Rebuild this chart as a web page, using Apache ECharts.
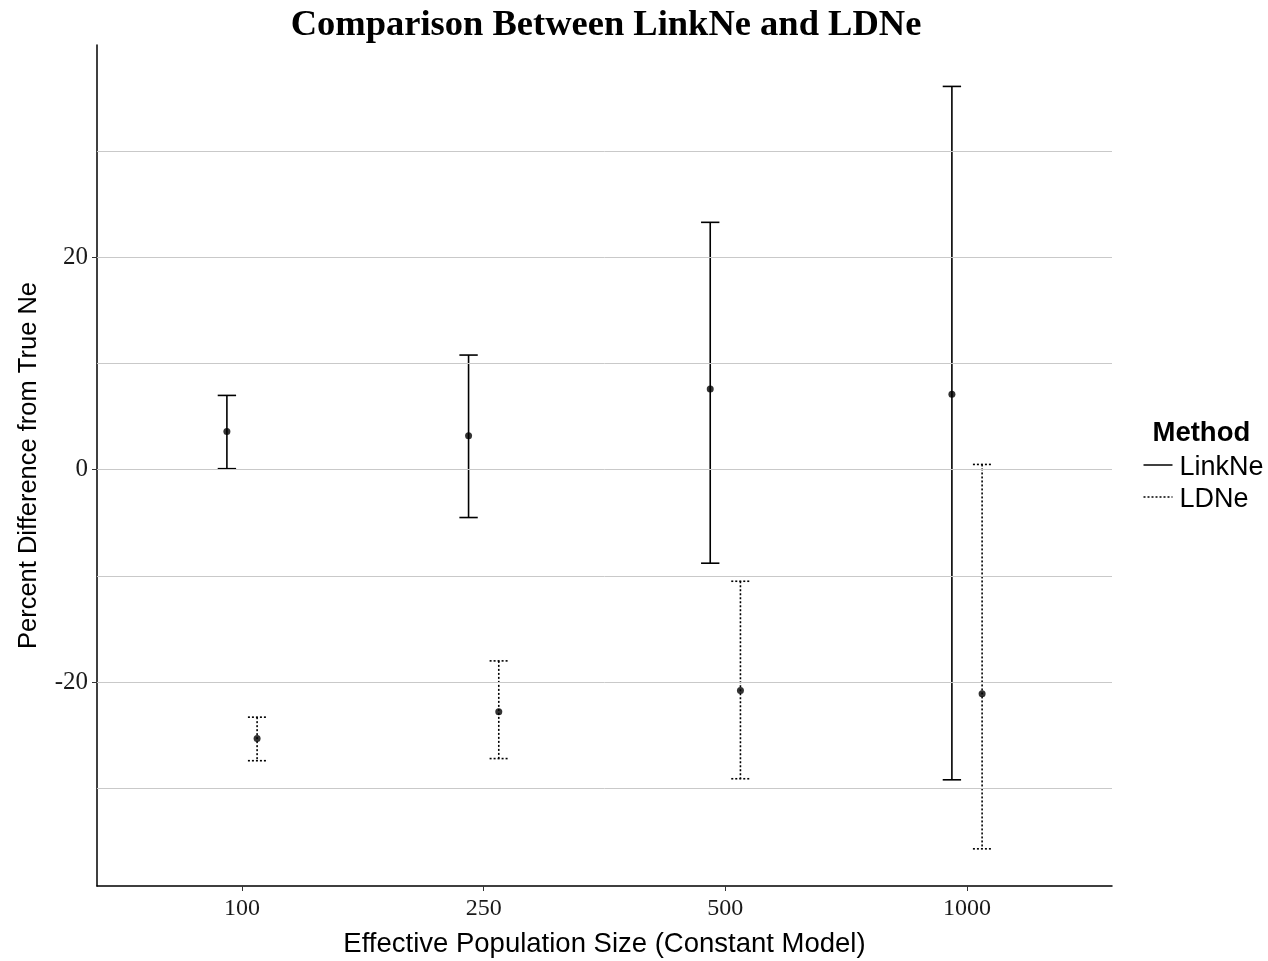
<!DOCTYPE html>
<html>
<head>
<meta charset="utf-8">
<title>Comparison Between LinkNe and LDNe</title>
<script src="https://cdn.jsdelivr.net/npm/echarts@6/dist/echarts.min.js"></script>
<style>
  html, body { margin: 0; padding: 0; background: #ffffff; }
  #chart { width: 1268px; height: 961px; }
</style>
</head>
<body>
<div id="chart"></div>
<script>
// Effective population sizes (discrete x positions 1..4)
const categories = ['100', '250', '500', '1000'];

// LinkNe: mean percent difference and interval bounds
const linkMean  = [3.6, 3.2, 7.6, 7.1];
const linkLower = [0.1, -4.5, -8.8, -29.2];
const linkUpper = [7.0, 10.8, 23.3, 36.1];

// LDNe: mean percent difference and interval bounds
const ldMean  = [-25.3, -22.8, -20.8, -21.1];
const ldLower = [-27.4, -27.2, -29.1, -35.7];
const ldUpper = [-23.3, -18.0, -10.5, 0.5];

// Axis ticks and horizontal guide lines
const yTickValues = [-20, 0, 20];
const gridValues = [-30, -20, -10, 0, 10, 20, 30];
const xTickValues = [1, 2, 3, 4];

const dodge = 0.0625;
const capHalf = 0.038;
const serif = 'Liberation Serif';
const sans = 'Liberation Sans';

function barData(lower, upper, shift) {
  return categories.map((c, i) => [i + 1 + shift, lower[i], upper[i]]);
}
function pointData(mean, shift) {
  return categories.map((c, i) => [i + 1 + shift, mean[i]]);
}

function makeErrorRenderer(dash) {
  return function (params, api) {
    const x = api.value(0);
    const lo = api.value(1);
    const hi = api.value(2);
    const top = api.coord([x, hi]);
    const bot = api.coord([x, lo]);
    const left = api.coord([x - capHalf, hi])[0];
    const right = api.coord([x + capHalf, hi])[0];
    const style = { stroke: '#000000', lineWidth: 1.6, lineDash: dash, fill: null };
    return {
      type: 'group',
      children: [
        { type: 'line', shape: { x1: top[0], y1: top[1], x2: bot[0], y2: bot[1] }, style: style },
        { type: 'line', shape: { x1: left, y1: top[1], x2: right, y2: top[1] }, style: style },
        { type: 'line', shape: { x1: left, y1: bot[1], x2: right, y2: bot[1] }, style: style }
      ]
    };
  };
}

const chart = echarts.init(document.getElementById('chart'), null, { renderer: 'canvas' });

const option = {
  backgroundColor: '#ffffff',
  animation: false,
  title: {
    text: 'Comparison Between LinkNe and LDNe',
    left: 601,
    top: 2,
    textAlign: 'center',
    textStyle: { fontFamily: serif, fontWeight: 'bold', fontSize: 36.5, color: '#000000' }
  },
  grid: { left: 97, right: 156, top: 45, bottom: 75, containLabel: false, outerBoundsMode: 'none' },
  xAxis: {
    type: 'value',
    min: 0.4,
    max: 4.6,
    name: 'Effective Population Size (Constant Model)',
    nameLocation: 'middle',
    nameGap: 44,
    nameTextStyle: { fontFamily: sans, fontSize: 27.5, color: '#000000' },
    axisLine: { show: true, onZero: false, lineStyle: { color: '#000000', width: 1.5 } },
    axisTick: { show: true, length: 5, customValues: xTickValues, lineStyle: { color: '#333333', width: 1 } },
    axisLabel: {
      customValues: xTickValues,
      margin: 11,
      fontFamily: serif,
      fontSize: 24,
      color: '#1a1a1a',
      formatter: function (v) { return categories[Math.round(v) - 1]; }
    },
    splitLine: { show: false }
  },
  yAxis: {
    type: 'value',
    min: -39.2,
    max: 40.0,
    name: 'Percent Difference from True Ne',
    nameLocation: 'middle',
    nameGap: 55,
    nameTextStyle: { fontFamily: sans, fontSize: 25.5, color: '#000000' },
    axisLine: { show: true, onZero: false, lineStyle: { color: '#000000', width: 1.5 } },
    axisTick: { show: true, length: 5, customValues: yTickValues, lineStyle: { color: '#333333', width: 1 } },
    axisLabel: {
      customValues: yTickValues,
      margin: 9,
      fontFamily: serif,
      fontSize: 25,
      color: '#1a1a1a'
    },
    splitLine: { show: false }
  },
  series: [
    {
      name: 'guides',
      type: 'scatter',
      data: [],
      silent: true,
      z: 1,
      markLine: {
        silent: true,
        symbol: ['none', 'none'],
        animation: false,
        label: { show: false },
        lineStyle: { color: '#c9c9c9', width: 1, type: 'solid' },
        emphasis: { disabled: true },
        data: gridValues.map(v => ({ yAxis: v }))
      }
    },
    {
      name: 'LinkNe',
      type: 'custom',
      z: 3,
      renderItem: makeErrorRenderer(null),
      encode: { x: 0, y: [1, 2] },
      data: barData(linkLower, linkUpper, -dodge)
    },
    {
      name: 'LDNe',
      type: 'custom',
      z: 3,
      renderItem: makeErrorRenderer([2, 2]),
      encode: { x: 0, y: [1, 2] },
      data: barData(ldLower, ldUpper, dodge)
    },
    {
      name: 'LinkNe mean',
      type: 'scatter',
      z: 4,
      symbol: 'circle',
      symbolSize: 7,
      itemStyle: { color: '#000000' },
      data: pointData(linkMean, -dodge)
    },
    {
      name: 'LDNe mean',
      type: 'scatter',
      z: 4,
      symbol: 'circle',
      symbolSize: 7,
      itemStyle: { color: '#000000' },
      data: pointData(ldMean, dodge)
    }
  ],
  graphic: [
    {
      type: 'group',
      left: 1141,
      top: 419,
      children: [
        { type: 'text', x: 9, y: 1, style: { text: 'Method', fontFamily: sans, fontWeight: 'bold', fontSize: 27.5, fill: '#000000' } },
        { type: 'line', shape: { x1: 0, y1: 47, x2: 29, y2: 47 }, style: { stroke: '#000000', lineWidth: 1.5 } },
        { type: 'text', x: 36, y: 36, style: { text: 'LinkNe', fontFamily: sans, fontSize: 27, fill: '#000000' } },
        { type: 'line', shape: { x1: 0, y1: 79, x2: 29, y2: 79 }, style: { stroke: '#000000', lineWidth: 1.5, lineDash: [2, 2] } },
        { type: 'text', x: 36, y: 68, style: { text: 'LDNe', fontFamily: sans, fontSize: 27, fill: '#000000' } }
      ]
    }
  ]
};

chart.setOption(option);
</script>
</body>
</html>
